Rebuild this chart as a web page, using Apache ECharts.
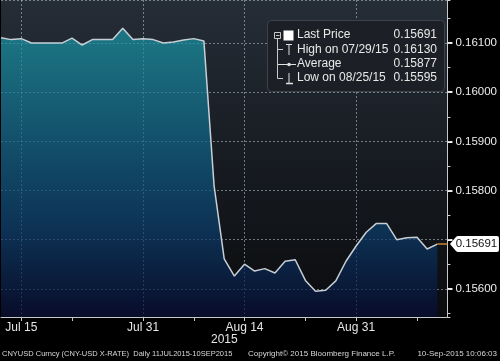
<!DOCTYPE html>
<html>
<head>
<meta charset="utf-8">
<script src="https://cdn.jsdelivr.net/npm/echarts@6/dist/echarts.min.js"></script>
<style>
html,body{margin:0;padding:0;background:#000;}
#chart{width:500px;height:361px;}
</style>
</head>
<body>
<div id="chart"></div>
<script>
// ---- data ----
const dates = ["Jul 13","Jul 14","Jul 15","Jul 16","Jul 17","Jul 20","Jul 21","Jul 22","Jul 23","Jul 24",
  "Jul 27","Jul 28","Jul 29","Jul 30","Jul 31","Aug 3","Aug 4","Aug 5","Aug 6","Aug 7",
  "Aug 10","Aug 11","Aug 12","Aug 13","Aug 14","Aug 17","Aug 18","Aug 19","Aug 20","Aug 21",
  "Aug 24","Aug 25","Aug 26","Aug 27","Aug 28","Aug 31","Sep 1","Sep 2","Sep 3","Sep 4",
  "Sep 7","Sep 8","Sep 9","Sep 10","Sep 11"];
const prices = [0.16111,0.16107,0.16109,0.16100,0.16100,0.16100,0.16100,0.16110,0.16096,0.16107,
  0.16107,0.16107,0.16130,0.16107,0.16109,0.16107,0.16100,0.16102,0.16106,0.16109,
  0.16104,0.15810,0.15661,0.15626,0.15650,0.15636,0.15641,0.15632,0.15656,0.15659,
  0.15617,0.15595,0.15597,0.15616,0.15656,0.15687,0.15715,0.15733,0.15733,0.15700,
  0.15704,0.15705,0.15681,0.15691];
const lastPrice = 0.15691;
const majorLabels = ["Jul 15","Jul 31","Aug 14","Aug 31"];
const minorTickDates = ["Jul 22","Aug 7","Aug 24","Sep 8"];
const legendNames = ["Last Price","High on 07/29/15","Average","Low on 08/25/15"];
const legendValues = ["0.15691","0.16130","0.15877","0.15595"];
const yearLabel = "2015";
const footerLeft = "CNYUSD Curncy (CNY-USD X-RATE)  Daily 11JUL2015-10SEP2015";
const footerMid = "Copyright\u00A9 2015 Bloomberg Finance L.P.";
const footerRight = "10-Sep-2015 10:06:03";
const yMin = 0.155426, yMax = 0.161876;

// ---- chart ----
const chart = echarts.init(document.getElementById('chart'), null, {renderer:'canvas'});
const lastSeries = dates.map((d,i)=> i >= prices.length-1 ? lastPrice : null);
const mainSeries = prices.slice();
const tickSet = majorLabels.concat(minorTickDates);
const gridLineStyle = {color:'rgba(190,200,210,0.55)', type:[2,2], width:1};
const font = 'Liberation Sans, Arial, sans-serif';
const ic = '#c8c8c8';

const legendRows = legendNames.map((n,i)=>({
  type:'text', left:297, top:29 + i*14.3, z:12,
  style:{text:n, fill:'#e8e8e8', font:'12px '+font}
}));
const legendVals = legendValues.map((v,i)=>({
  type:'text', right:63, top:29 + i*14.3, z:12,
  style:{text:v, fill:'#e8e8e8', font:'12px '+font, align:'right'}
}));
const icons = [
  {type:'rect', shape:{x:274.5, y:32.5, width:6, height:6}, style:{fill:'none', stroke:ic, lineWidth:1}},
  {type:'line', shape:{x1:276, y1:35.5, x2:279.5, y2:35.5}, style:{stroke:ic, lineWidth:1}},
  {type:'line', shape:{x1:277.5, y1:39, x2:277.5, y2:78.5}, style:{stroke:ic, lineWidth:1}},
  {type:'line', shape:{x1:277.5, y1:49.5, x2:283, y2:49.5}, style:{stroke:ic, lineWidth:1}},
  {type:'line', shape:{x1:277.5, y1:78.5, x2:283, y2:78.5}, style:{stroke:ic, lineWidth:1}},
  {type:'rect', shape:{x:283.5, y:30.5, width:10, height:10}, style:{fill:'#ffffff'}},
  {type:'line', shape:{x1:286, y1:44.5, x2:292, y2:44.5}, style:{stroke:'#e0e0e0', lineWidth:1}},
  {type:'line', shape:{x1:289, y1:44.5, x2:289, y2:55}, style:{stroke:'#e0e0e0', lineWidth:1}},
  {type:'line', shape:{x1:278, y1:64.5, x2:296, y2:64.5}, style:{stroke:'#e0e0e0', lineWidth:1}},
  {type:'circle', shape:{cx:289, cy:64.5, r:1.8}, style:{fill:'#e0e0e0'}},
  {type:'line', shape:{x1:289, y1:73, x2:289, y2:83.5}, style:{stroke:'#e0e0e0', lineWidth:1}},
  {type:'line', shape:{x1:286, y1:83.5, x2:293, y2:83.5}, style:{stroke:'#e0e0e0', lineWidth:1.5}}
].map(e=>Object.assign(e,{z:11}));

const option = {
  backgroundColor:'#000',
  animation:false,
  grid:{left:1, right:52, top:-2, bottom:44, show:true, borderWidth:0,
    backgroundColor:{type:'linear', x:0, y:0, x2:0, y2:1,
      colorStops:[{offset:0,color:'#252d37'},{offset:1,color:'#0a0b0d'}]}},
  xAxis:{
    type:'category', data:dates, boundaryGap:false,
    axisLine:{lineStyle:{color:'#c8c8c8', width:1}},
    axisTick:{show:true, length:4, lineStyle:{color:'#c8c8c8'},
      interval:(i,v)=>tickSet.includes(v)},
    axisLabel:{color:'#e6e6e6', fontSize:12, fontFamily:font, margin:5,
      interval:(i,v)=>majorLabels.includes(v)},
    splitLine:{show:true, interval:(i,v)=>majorLabels.includes(v), lineStyle:gridLineStyle}
  },
  yAxis:[{
    type:'value', position:'right', min:yMin, max:yMax,
    minInterval:0.001, maxInterval:0.001, scale:true,
    axisLine:{show:true, lineStyle:{color:'#c8c8c8', width:1}},
    axisTick:{show:true, length:5, lineStyle:{color:'#f0f0f0', width:2}},
    axisLabel:{color:'#ececec', fontSize:11.5, fontFamily:font, margin:8,
      showMinLabel:false, showMaxLabel:false,
      formatter:v=> Math.abs(v - lastPrice) < 0.00025 ? '' : v.toFixed(5)},
    splitLine:{show:true, lineStyle:gridLineStyle}
  },{
    type:'value', position:'right', min:yMin, max:yMax,
    minInterval:0.0005, maxInterval:0.0005, scale:true,
    axisLine:{show:false}, axisLabel:{show:false}, splitLine:{show:false},
    axisTick:{show:true, length:3, lineStyle:{color:'#d0d0d0', width:1}}
  }],
  series:[{
    type:'line', data:mainSeries, yAxisIndex:0, showSymbol:false, symbol:'none',
    lineStyle:{color:'#c6ced6', width:1.5},
    areaStyle:{origin:'start', color:{type:'linear', x:0, y:0, x2:0, y2:317, global:true,
      colorStops:[{offset:0,color:'#1c9fb0'},{offset:0.15,color:'#1890a2'},
                  {offset:0.45,color:'#106588'},{offset:0.72,color:'#0b3f6e'},
                  {offset:1,color:'#070d36'}]}},
    z:3
  },{
    type:'line', data:lastSeries, yAxisIndex:0, showSymbol:false, symbol:'none',
    lineStyle:{color:'#c98536', width:1.5}, z:4,
    markPoint:{
      symbol:'path://M0,8L6,1Q7,0 8,0L47,0Q49,0 49,2L49,14Q49,16 47,16L8,16Q7,16 6,15Z',
      symbolSize:[49,16], symbolKeepAspect:false, symbolOffset:[27,0],
      itemStyle:{color:'#ffffff'},
      label:{show:true, position:'inside', color:'#111', fontSize:11.5, fontFamily:font,
        offset:[2,0], formatter:()=>lastPrice.toFixed(5)},
      data:[{coord:[dates.length-1, lastPrice]}]
    }
  }],
  graphic:[
    {type:'rect', shape:{x:267.5, y:20.5, width:177, height:71, r:4},
      style:{fill:'#1c2026', stroke:'#3d434a', lineWidth:1}, z:10},
    ...icons,
    ...legendRows,
    ...legendVals,
    {type:'text', left:211, top:334, style:{text:yearLabel, fill:'#e6e6e6', font:'12px '+font}},
    {type:'text', left:2, top:350, style:{text:footerLeft, fill:'#d8d8d8', font:'7.5px '+font}},
    {type:'text', left:248, top:350, style:{text:footerMid, fill:'#d8d8d8', font:'8px '+font}},
    {type:'text', right:3, top:350, style:{text:footerRight, fill:'#d8d8d8', font:'8px '+font, align:'right'}}
  ]
};
chart.setOption(option);
</script>
</body>
</html>
